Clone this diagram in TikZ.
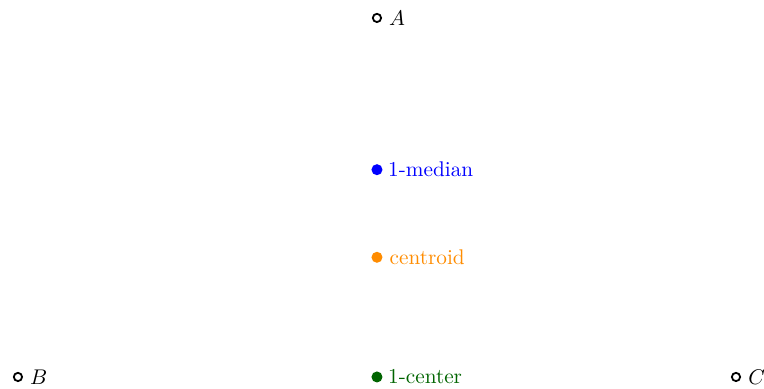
\documentclass[tikz,border=0pt]{standalone}
\usepackage{xcolor}
\usepackage{amsmath}
\usepackage{tikz}
\usetikzlibrary{positioning}

\definecolor{darkorange}{RGB}{255,140,0}
\definecolor{darkgreen}{RGB}{0,100,0}

\tikzset{
	vertexpt/.style={circle, draw=black, fill=white, line width=0.85pt, inner sep=0pt, minimum size=3.9pt},
	centerpt/.style={circle, fill=#1, inner sep=0pt, minimum size=5.2pt},
}

\begin{document}
\begin{tikzpicture}[x=5.94cm, y=5.94cm]
	\useasboundingbox (-1.050,-0.0334) rectangle (1.078,1.050);
	\node[vertexpt, label={[inner sep=3.2pt]right:$A$}] (A) at (0,1) {};
	\node[vertexpt, label={[inner sep=3.2pt]right:$B$}] (B) at (-1,0) {};
	\node[vertexpt, label={[inner sep=3.2pt]right:$C$}] (C) at (1,0) {};
	\node[centerpt=blue, label={[text=blue, inner sep=2.3pt]right:1-median}] (median) at (0,0.57735) {};
	\node[centerpt=darkorange, label={[text=darkorange, inner sep=3pt]right:centroid}] (centroid) at (0,0.33333) {};
	\node[centerpt=darkgreen, label={[text=darkgreen, inner sep=2.3pt]right:1-center}] (center) at (0,0) {};
\end{tikzpicture}
\end{document}
